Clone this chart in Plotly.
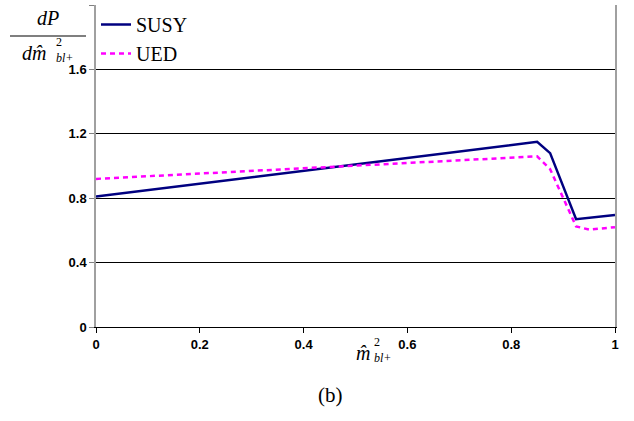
import plotly.graph_objects as go

x_susy = [0, 0.85, 0.875, 0.925, 1.0]
y_susy = [0.81, 1.15, 1.08, 0.67, 0.695]
x_ued = [0, 0.85, 0.875, 0.925, 0.95, 1.0]
y_ued = [0.92, 1.06, 0.98, 0.625, 0.605, 0.62]
x_ticks = [0, 0.2, 0.4, 0.6, 0.8, 1]
x_ticklabels = ["0", "0.2", "0.4", "0.6", "0.8", "1"]
y_ticks = [0, 0.4, 0.8, 1.2, 1.6, 2]
y_ticklabels = ["0", "0.4", "0.8", "1.2", "1.6", "2"]

W, H = 634, 421
L, R, T, B = 96, 19, 5, 94

fig = go.Figure()
fig.add_trace(go.Scatter(x=x_susy, y=y_susy, mode="lines", name="SUSY",
                         line=dict(color="#000080", width=2.5)))
fig.add_trace(go.Scatter(x=x_ued, y=y_ued, mode="lines", name="UED",
                         line=dict(color="#FF00FF", width=2.5, dash="5px,4px")))

tickfont = dict(family="Liberation Sans, Arial", size=13, color="black", weight="bold")
fig.update_layout(
    width=W, height=H,
    margin=dict(l=L, r=R, t=T, b=B),
    paper_bgcolor="white", plot_bgcolor="white",
    showlegend=True,
    legend=dict(x=0.0, y=1.0, xanchor="left", yanchor="top",
                font=dict(family="Liberation Serif, DejaVu Serif", size=20, color="black"),
                bgcolor="rgba(0,0,0,0)", itemwidth=30, tracegroupgap=0),
    xaxis=dict(range=[0, 1], tickvals=x_ticks, ticktext=x_ticklabels,
               ticks="outside", ticklen=5, tickcolor="black",
               showgrid=False, zeroline=False, showline=True,
               linecolor="black", linewidth=1, tickfont=tickfont, fixedrange=True),
    yaxis=dict(range=[0, 2], tickvals=y_ticks, ticktext=y_ticklabels,
               ticks="outside", ticklen=5, tickcolor="gray",
               showgrid=True, gridcolor="black", gridwidth=1,
               zeroline=False, showline=True, mirror=True,
               linecolor="#a0a0a0", linewidth=1.5, tickfont=tickfont, fixedrange=True),
)

serif = "Liberation Serif, DejaVu Serif"
def ann(text, x, y, size, italic=True, xanchor="center", align="center"):
    fig.add_annotation(xref="paper", yref="paper", x=x, y=y,
                       xanchor=xanchor, yanchor="middle", showarrow=False, align=align,
                       text=(f"<i>{text}</i>" if italic else text),
                       font=dict(family=serif, size=size, color="black"))

def px(xp, yp):
    return (xp - L) / (W - L - R), 1 - (yp - T) / (H - T - B)

supsub = "2<br><i>bl+</i>"

# y-axis title as fraction
ann("dP", *px(48, 18), 20)
x0, y0 = px(10, 36)
x1, _ = px(86, 36)
fig.add_shape(type="line", xref="paper", yref="paper", x0=x0, x1=x1, y0=y0, y1=y0,
              line=dict(color="black", width=1.2))
ann("dm̂", *px(34, 53), 20)
ann(supsub, *px(54, 50), 12, italic=False, xanchor="left", align="left")

# x-axis title
ann("m̂", *px(363, 353), 20)
ann(supsub, *px(372, 350), 12, italic=False, xanchor="left", align="left")

# caption
ann("(b)", *px(330, 395), 21, italic=False)

fig.write_html("out.html", config={"displayModeBar": False},
               post_script="document.body.style.margin='0';document.body.style.overflow='hidden';")
